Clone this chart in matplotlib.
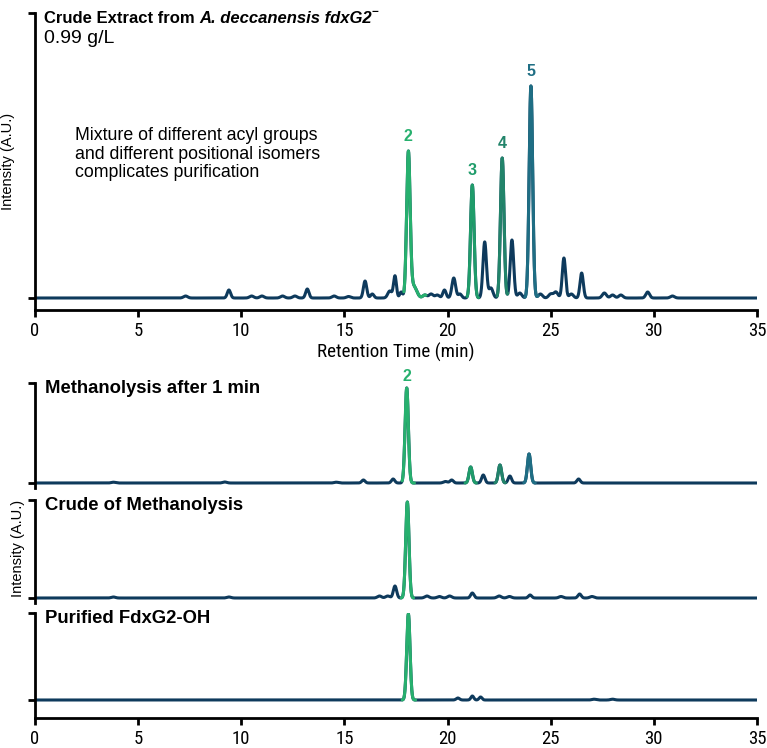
import numpy as np
import matplotlib.pyplot as plt
from matplotlib import font_manager

# ---------------- data ----------------
# Crude extract: peak table (retention time [min], height [a.u.], width sigma [min])
crude_rt = [7.3, 9.4, 10.5, 11.0, 12.0, 12.6, 13.2, 14.5, 15.2, 16.0, 16.35, 17.2, 17.45, 17.75,
            18.1, 18.35, 18.9, 19.2, 19.5, 19.85, 20.3, 20.6, 21.2, 21.8, 22.1, 22.65, 23.12,
            23.5, 24.04, 24.5, 25.0, 25.25, 25.64, 26.0, 26.5, 27.6, 28.0, 28.4, 29.7, 30.9]
crude_h = [2, 8, 2, 2, 2, 2, 9, 2, 1.5, 17, 4, 7, 22, 6,
           144, 12, 3, 4, 3, 8, 20, 4, 113, 56, 10, 140, 58,
           5, 212, 4, 4, 6, 40, 4, 25, 5, 3, 3, 6, 2]
crude_w = [0.1, 0.08, 0.1, 0.1, 0.1, 0.1, 0.08, 0.1, 0.1, 0.08, 0.08, 0.1, 0.07, 0.07,
           0.085, 0.15, 0.1, 0.1, 0.1, 0.08, 0.09, 0.08, 0.085, 0.085, 0.1, 0.085, 0.085,
           0.1, 0.085, 0.1, 0.1, 0.1, 0.08, 0.1, 0.08, 0.1, 0.1, 0.1, 0.09, 0.1]

# Methanolysis after 1 min
meth1_rt = [3.8, 9.2, 14.6, 15.92, 17.36, 18.02, 19.9, 20.2, 21.12, 21.73, 22.54, 23.02, 23.95, 26.35]
meth1_h = [0.8, 1.0, 0.8, 3, 4, 95, 1.5, 3, 16, 8, 18, 7, 29, 4]
meth1_w = [0.1, 0.1, 0.1, 0.08, 0.08, 0.08, 0.1, 0.08, 0.08, 0.08, 0.08, 0.08, 0.08, 0.08]

# Crude of methanolysis
methc_rt = [3.8, 9.4, 16.7, 17.1, 17.45, 18.05, 19.0, 19.6, 20.1, 21.2, 22.5, 23.0, 24.0, 25.5, 26.4, 27.0]
methc_h = [1.0, 1.0, 2, 2, 12, 96, 2, 1.5, 2, 5, 2, 1.5, 3, 1.5, 4, 1.5]
methc_w = [0.1, 0.1, 0.1, 0.1, 0.08, 0.08, 0.1, 0.1, 0.1, 0.08, 0.1, 0.1, 0.08, 0.1, 0.08, 0.1]

# Purified FdxG2-OH
pure_rt = [18.1, 20.5, 21.2, 21.6, 27.1, 28.0]
pure_h = [86, 2, 4, 3, 0.8, 0.8]
pure_w = [0.08, 0.08, 0.07, 0.07, 0.1, 0.1]

# highlighted (labelled) peaks: label, start, end of coloured segment
crude_marked = [("2", 17.88, 18.95), ("3", 20.95, 21.5), ("4", 22.4, 22.92), ("5", 23.75, 24.4)]
meth1_marked = [("2", 17.8, 18.4), ("3", 20.85, 21.4), ("4", 22.3, 22.8), ("5", 23.7, 24.25)]
methc_marked = [("2", 17.75, 18.35)]
pure_marked = [("2", 17.8, 18.45)]

xticks = [0, 5, 10, 15, 20, 25, 30, 35]

# ---------------- styling ----------------
NAVY = "#0e3a5c"
PEAK_COLORS = {"2": "#27b06e", "3": "#1f9c6a", "4": "#22846a", "5": "#1f6e84"}

avail = {f.name for f in font_manager.fontManager.ttflist}
def pick(*names):
    for n in names:
        if n in avail:
            return n
    return "DejaVu Sans"

NARROW = pick("Liberation Sans Narrow", "Roboto Condensed", "Liberation Sans")
SANS = pick("Liberation Sans", "Noto Sans", "DejaVu Sans")

plt.rcParams["font.family"] = SANS

t = np.linspace(0, 35, 7001)

def trace(rt, h, w):
    y = np.zeros_like(t)
    for c, a, s in zip(rt, h, w):
        y += a * np.exp(-0.5 * ((t - c) / s) ** 2)
    return y

fig = plt.figure(figsize=(7.67, 7.48), dpi=100)
W, H = 767.0, 748.0
def axes_px(x0, x1, ytop, ybot):
    return fig.add_axes([x0 / W, 1 - ybot / H, (x1 - x0) / W, (ybot - ytop) / H])

SPW = 2.0

def style_axes(ax, ylo, yhi, bottom):
    ax.set_xlim(0, 35)
    ax.set_ylim(ylo, yhi)
    ax.spines["top"].set_visible(False)
    ax.spines["right"].set_visible(False)
    ax.spines["left"].set_linewidth(SPW)
    ax.set_yticks([0, yhi])
    ax.set_yticklabels([])
    ax.tick_params(axis="y", length=5, width=SPW, direction="out")
    if bottom:
        ax.spines["bottom"].set_linewidth(SPW)
        ax.set_xticks(xticks)
        ax.tick_params(axis="x", length=5, width=SPW, direction="out", pad=4)
        for lab in ax.get_xticklabels():
            lab.set_fontfamily(NARROW)
            lab.set_fontsize(13.5)
    else:
        ax.spines["bottom"].set_visible(False)
        ax.set_xticks([])
    ax.patch.set_alpha(0)

def draw(ax, rt, h, w, marked, labels=True, lw=2.2):
    y = trace(rt, h, w)
    ax.plot(t, y, color=NAVY, lw=lw, solid_capstyle="round", zorder=2)
    for lab, a, b in marked:
        m = (t >= a) & (t <= b)
        ax.plot(t[m], y[m], color=PEAK_COLORS[lab], lw=lw, solid_capstyle="round", zorder=3)
        if labels:
            i = np.argmax(np.where(m, y, -1))
            ax.annotate(lab, xy=(t[i], y[i]), xytext=(0, 5), textcoords="offset points",
                        ha="center", va="bottom", color=PEAK_COLORS[lab], fontsize=11.5,
                        fontweight="bold", annotation_clip=False)

# ---------- top panel ----------
ax0 = axes_px(35, 757, 13, 310)
style_axes(ax0, -12, 285, True)
draw(ax0, crude_rt, crude_h, crude_w, crude_marked)
ax0.set_xlabel("Retention Time (min)", fontfamily=NARROW, fontsize=13.7, labelpad=2)
ax0.set_ylabel("Intensity (A.U.)", fontsize=10.5, labelpad=6)

t1 = ax0.text(0.012, 0.982, "Crude Extract from ", transform=ax0.transAxes, fontsize=12,
              fontweight="bold", ha="left", va="center")
t2 = ax0.annotate("A. deccanensis fdxG2", xy=(1, 0), xycoords=t1, ha="left", va="bottom",
                  fontsize=12, fontweight="bold", fontstyle="italic")
ax0.annotate("\u2212", xy=(1, 0.55), xycoords=t2, ha="left", va="bottom",
             fontsize=8.5, fontweight="bold")
ax0.text(0.012, 0.915, "0.99 g/L", transform=ax0.transAxes, fontsize=14, ha="left", va="center")
ax0.text(0.055, 0.524, "Mixture of different acyl groups\nand different positional isomers\ncomplicates purification",
         transform=ax0.transAxes, fontsize=12.8, ha="left", va="center", linespacing=1.12)

# ---------- lower panels ----------
TITLE_KW = dict(fontfamily=SANS, fontsize=13.3, fontweight="bold", ha="left", va="center")

ax1 = axes_px(35, 757, 383, 488)
style_axes(ax1, -5, 100, False)
draw(ax1, meth1_rt, meth1_h, meth1_w, meth1_marked, labels=False)
y1 = trace(meth1_rt, meth1_h, meth1_w)
lab_i = np.argmax(y1)
ax1.annotate("2", xy=(t[lab_i], y1[lab_i]), xytext=(0, 3),
             textcoords="offset points", ha="center", va="bottom", color=PEAK_COLORS["2"],
             fontsize=11.5, fontweight="bold", annotation_clip=False)
ax1.text(0.014, 0.95, "Methanolysis after 1 min", transform=ax1.transAxes, **TITLE_KW)

ax2 = axes_px(35, 757, 500, 603)
style_axes(ax2, -5, 98, False)
draw(ax2, methc_rt, methc_h, methc_w, methc_marked, labels=False)
ax2.text(0.014, 0.95, "Crude of Methanolysis", transform=ax2.transAxes, **TITLE_KW)

ax3 = axes_px(35, 757, 613, 718)
style_axes(ax3, -18, 87, True)
draw(ax3, pure_rt, pure_h, pure_w, pure_marked, labels=False)
ax3.text(0.014, 0.95, "Purified FdxG2-OH", transform=ax3.transAxes, **TITLE_KW)

fig.text(18 / W, 1 - 548 / H, "Intensity (A.U.)", rotation=90, fontsize=10.5,
         ha="center", va="center")

fig.savefig("out.png", dpi=100)
